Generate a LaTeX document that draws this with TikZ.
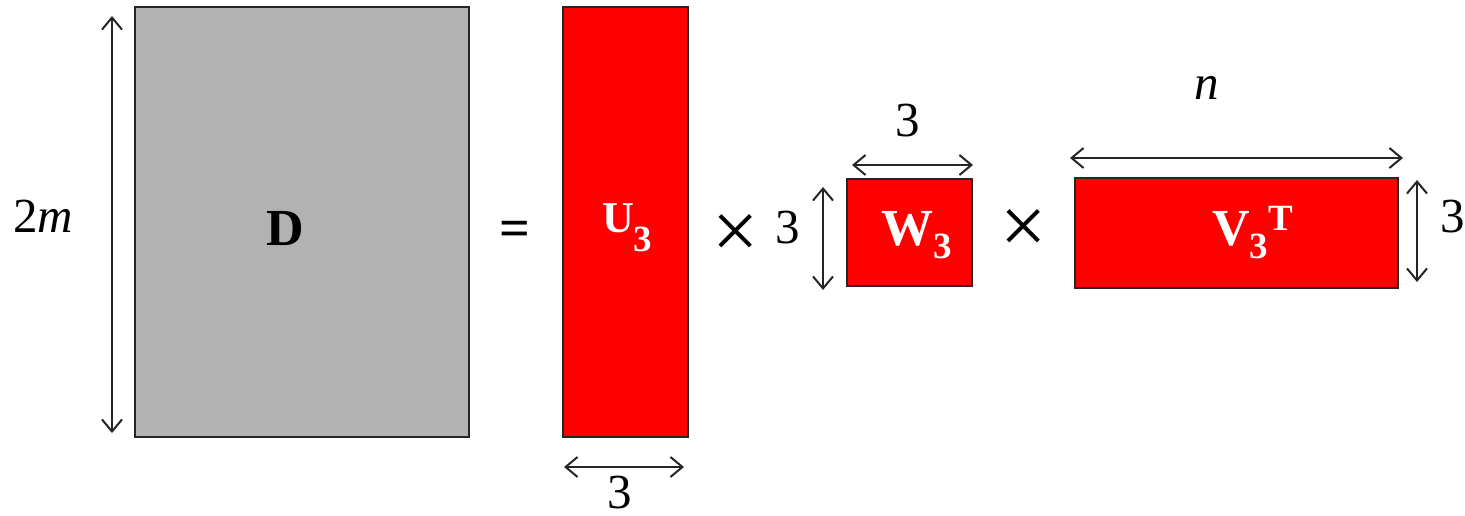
\documentclass[tikz,border=0pt]{standalone}
\usepackage{fontspec}
\setmainfont{Liberation Serif}
\usetikzlibrary{arrows.meta}
\definecolor{matgray}{HTML}{B2B2B2}
\definecolor{matred}{HTML}{FF0000}
\newcommand{\bigtxt}{\fontsize{49}{58}\selectfont}
\newcommand{\lbltxt}{\fontsize{52}{60}\selectfont\bfseries}
\newcommand{\subtxt}{\fontsize{37}{44}\selectfont\bfseries}
\tikzset{
  x=1pt, y=-1pt,
  mat/.style={draw=black!85, line width=1.3pt},
  dimtip/.tip={Straight Barb[length=12pt,width=20pt,line width=2pt]},
  dim/.style={draw=black!85, line width=2pt, dimtip-dimtip},
  txt/.style={inner sep=0pt, outer sep=0pt, anchor=base, font=\bigtxt},
  lbl/.style={inner sep=0pt, outer sep=0pt, anchor=base west, text=white, font=\lbltxt},
}
\begin{document}
\begin{tikzpicture}
\useasboundingbox (0,0) rectangle (1465,516);
% matrices
\draw[mat, fill=matgray] (135,7) rectangle (469,437);
\draw[mat, fill=matred] (563,7) rectangle (688,437);
\draw[mat, fill=matred] (847,179) rectangle (972,286);
\draw[mat, fill=matred] (1075,178) rectangle (1398,288);
% dimension coordinates
\coordinate (Dt) at (112,16);
\coordinate (Db) at (112,433);
\coordinate (Ul) at (564,467);
\coordinate (Ur) at (684,467);
\coordinate (Wt) at (823,187);
\coordinate (Wb) at (823,290);
\coordinate (Wl) at (852,165);
\coordinate (Wr) at (973,165);
\coordinate (Vl) at (1070,158);
\coordinate (Vr) at (1403,158);
\coordinate (Vt) at (1417,180);
\coordinate (Vb) at (1417,282);
\draw[dim] (Dt) -- (Db);
\draw[dim] (Ul) -- (Ur);
\draw[dim] (Wt) -- (Wb);
\draw[dim] (Wl) -- (Wr);
\draw[dim] (Vl) -- (Vr);
\draw[dim] (Vt) -- (Vb);
% dimension labels
\node[txt, anchor=base west] (m2) at (13,232) {2\textit{m}};
\node[txt] (u3) at (620,508) {3};
\node[txt] (w3l) at (788,243) {3};
\node[txt] (w3t) at (908,137) {3};
\node[txt] (nn) at (1207,100) {\textit{n}};
\node[txt] (v3r) at (1453,233) {3};
% operators
\node[txt, font=\fontsize{54}{60}\selectfont\bfseries] (eq) at (515,246) {=};
\node[txt, font=\fontsize{82}{84}\selectfont] (x1) at (736,258) {×};
\node[txt, font=\fontsize{82}{84}\selectfont] (x2) at (1024,253) {×};
% matrix labels
\node[inner sep=0pt, anchor=base, font=\lbltxt] (Dl) at (285,245) {D};
\node[lbl, font=\fontsize{44}{50}\selectfont\bfseries] (Ul3) at (602,232) {U\raisebox{-20pt}{\subtxt 3}};
\node[lbl] (Wl3) at (881,245) {W\raisebox{-13pt}{\subtxt 3}};
\node[lbl] (Vl3) at (1212,245) {V\raisebox{-13pt}{\subtxt 3}\raisebox{15pt}{\subtxt T}};
\end{tikzpicture}
\end{document}
